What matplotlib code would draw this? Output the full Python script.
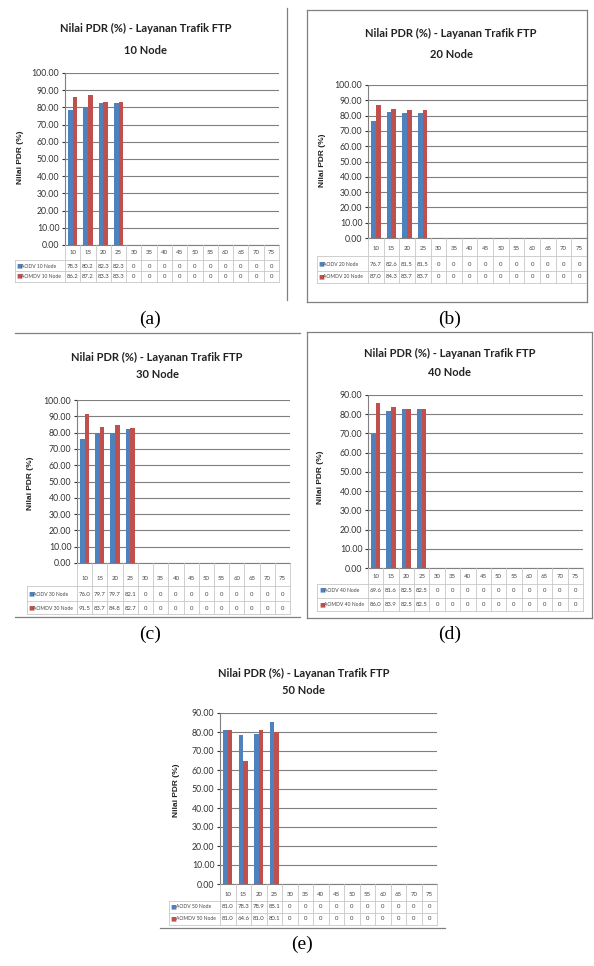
import matplotlib

matplotlib.use("Agg")
import matplotlib.pyplot as plt
import numpy as np
from matplotlib.lines import Line2D
from matplotlib.ticker import FormatStrFormatter
from matplotlib.transforms import blended_transform_factory, offset_copy

W, H = 594, 966
BLUE = "#4F81BD"
RED = "#C0504D"
SANS = ["Lato", "DejaVu Sans"]
LINE_C = "#c8c8c8"

categories = [10, 15, 20, 25, 30, 35, 40, 45, 50, 55, 60, 65, 70, 75]
title_main = "Nilai PDR (%) - Layanan Trafik FTP"

aodv_10 = [78.3, 80.2, 82.3, 82.3, 0, 0, 0, 0, 0, 0, 0, 0, 0, 0]
aomdv_10 = [86.2, 87.2, 83.3, 83.3, 0, 0, 0, 0, 0, 0, 0, 0, 0, 0]
aodv_20 = [76.7, 82.6, 81.5, 81.5, 0, 0, 0, 0, 0, 0, 0, 0, 0, 0]
aomdv_20 = [87.0, 84.3, 83.7, 83.7, 0, 0, 0, 0, 0, 0, 0, 0, 0, 0]
aodv_30 = [76.0, 79.7, 79.7, 82.1, 0, 0, 0, 0, 0, 0, 0, 0, 0, 0]
aomdv_30 = [91.5, 83.7, 84.8, 82.7, 0, 0, 0, 0, 0, 0, 0, 0, 0, 0]
aodv_40 = [69.6, 81.6, 82.5, 82.5, 0, 0, 0, 0, 0, 0, 0, 0, 0, 0]
aomdv_40 = [86.0, 83.9, 82.5, 82.5, 0, 0, 0, 0, 0, 0, 0, 0, 0, 0]
aodv_50 = [81.0, 78.3, 78.9, 85.1, 0, 0, 0, 0, 0, 0, 0, 0, 0, 0]
aomdv_50 = [81.0, 64.6, 81.0, 80.1, 0, 0, 0, 0, 0, 0, 0, 0, 0, 0]

nodes = ["10", "20", "30", "40", "50"]
panel_letters = ["(a)", "(b)", "(c)", "(d)", "(e)"]


def rect(left, top, right, bottom):
    return [left / W, 1 - bottom / H, (right - left) / W, (bottom - top) / H]


def fig_line(fig, x0, y0, x1, y1, color="#808080", lw=0.9):
    # pixel coords from the top-left corner
    fig.add_artist(Line2D([x0 / W, x1 / W], [1 - y0 / H, 1 - y1 / H],
                          transform=fig.transFigure, color=color, lw=lw))


def fig_text(fig, x, y, s, **kw):
    fig.text(x / W, 1 - y / H, s, **kw)


def disp_line(fig, x0, y0, x1, y1):
    # display coords (origin bottom-left)
    fig.add_artist(Line2D([x0 / W, x1 / W], [y0 / H, y1 / H],
                          transform=fig.transFigure, color=LINE_C, lw=0.6))


def draw_panel(fig, box, aodv, aomdv, node, ymax, rows):
    ax = fig.add_axes(rect(*box))
    x = np.arange(len(categories))
    w = 0.3
    ax.bar(x - w / 2, aodv, w, color=BLUE, zorder=3)
    ax.bar(x + w / 2, aomdv, w, color=RED, zorder=3)
    ax.set_xlim(-0.5, len(categories) - 0.5)
    ax.set_ylim(0, ymax)
    ax.set_yticks(np.arange(0, ymax + 1, 10))
    ax.yaxis.set_major_formatter(FormatStrFormatter("%.2f"))
    ax.tick_params(axis="y", labelsize=6.3, length=2, pad=2, colors="#333333")
    for lab in ax.get_yticklabels():
        lab.set_family(SANS)
    ax.set_xticks([])
    ax.grid(axis="y", color="#7f7f7f", lw=0.8)
    ax.set_axisbelow(True)
    for s in ("top", "right"):
        ax.spines[s].set_visible(False)
    ax.spines["left"].set_color("#808080")
    ax.spines["bottom"].set_color("#808080")

    # data table under the axis (Excel style)
    trans = blended_transform_factory(ax.transData, ax.transAxes)
    r_cat, r1, r2 = rows
    bottom = r2 + 6
    tk = dict(fontsize=4.3, ha="center", va="center", color="#444444", family=SANS)
    for i, c in enumerate(categories):
        ax.text(i, 0, str(c), transform=offset_copy(trans, fig=fig, y=-r_cat, units="dots"), **tk)
        for vals, r in ((aodv, r1), (aomdv, r2)):
            v = vals[i]
            s = f"{v:.1f}" if v else "0"
            ax.text(i, 0, s, transform=offset_copy(trans, fig=fig, y=-r, units="dots"), **tk)

    fig.canvas.draw()
    for i in range(len(categories) + 1):
        xd, yd = trans.transform((i - 0.5, 0))
        disp_line(fig, xd, yd, xd, yd - bottom)
    lx, ly = ax.transAxes.transform((-0.235, 0))
    rx, _ = ax.transAxes.transform((1, 0))
    for yoff in ((r_cat + r1) / 2, (r1 + r2) / 2, bottom):
        disp_line(fig, lx, ly - yoff, rx, ly - yoff)
    disp_line(fig, lx, ly - (r_cat + r1) / 2, lx, ly - bottom)

    for color, name, r in ((BLUE, f"AODV {node} Node", r1), (RED, f"AOMDV {node} Node", r2)):
        t = offset_copy(ax.transAxes, fig=fig, y=-r, units="dots")
        ax.text(-0.228, 0, "\u25a0", transform=t, fontsize=4.5, color=color,
                ha="left", va="center", family="DejaVu Sans")
        ax.text(-0.205, 0, name, transform=t, fontsize=3.6, color="#444444",
                ha="left", va="center", family=SANS)
    return ax


fig = plt.figure(figsize=(W / 100, H / 100), dpi=100)

series = [(aodv_10, aomdv_10), (aodv_20, aomdv_20), (aodv_30, aomdv_30),
          (aodv_40, aomdv_40), (aodv_50, aomdv_50)]
boxes = [(65, 73, 279, 245), (368, 85, 587, 238), (77, 400, 290, 563),
         (368, 395, 583, 568), (220, 713, 437, 884)]
ymaxes = [100, 100, 100, 90, 90]
table_rows = [(8, 21, 31), (10, 26, 39), (15, 31, 45), (9, 22, 37), (11, 23, 35)]
title_pos = [(146, 28, 50), (451, 33, 55), (157, 357, 375), (450, 353, 372), (304, 673, 690)]
ylabel_pos = [(20, 157), (323, 160), (30, 483), (321, 477), (177, 790)]
caption_pos = [(150, 319), (450, 319), (150, 634), (450, 634), (302, 944)]

for k in range(5):
    draw_panel(fig, boxes[k], series[k][0], series[k][1], nodes[k], ymaxes[k], table_rows[k])
    tx, ty1, ty2 = title_pos[k]
    fig_text(fig, tx, ty1, title_main, ha="center", va="center", fontsize=8,
             fontweight="bold", family=SANS, color="#222222")
    fig_text(fig, tx, ty2, f"{nodes[k]} Node", ha="center", va="center", fontsize=8,
             fontweight="bold", family=SANS, color="#222222")
    lx, ly = ylabel_pos[k]
    fig_text(fig, lx, ly, "Nilai PDR (%)", ha="center", va="center", rotation=90,
             fontsize=6, fontweight="bold", family="Liberation Sans", color="#222222")
    cx, cy = caption_pos[k]
    fig_text(fig, cx, cy, panel_letters[k], ha="center", va="center", fontsize=14,
             family="Liberation Serif", color="black")

# frames around the panels as in the scanned figure
fig_line(fig, 287, 8, 287, 300)
fig_line(fig, 307, 10, 587, 10)
fig_line(fig, 307, 302, 587, 302)
fig_line(fig, 307, 10, 307, 302)
fig_line(fig, 587, 10, 587, 302)
fig_line(fig, 15, 333, 300, 333)
fig_line(fig, 15, 617, 300, 617)
fig_line(fig, 307, 332, 592, 332)
fig_line(fig, 307, 618, 592, 618)
fig_line(fig, 307, 332, 307, 618)
fig_line(fig, 592, 332, 592, 618)
fig_line(fig, 160, 928, 445, 928)

fig.savefig("out.png", dpi=100)
